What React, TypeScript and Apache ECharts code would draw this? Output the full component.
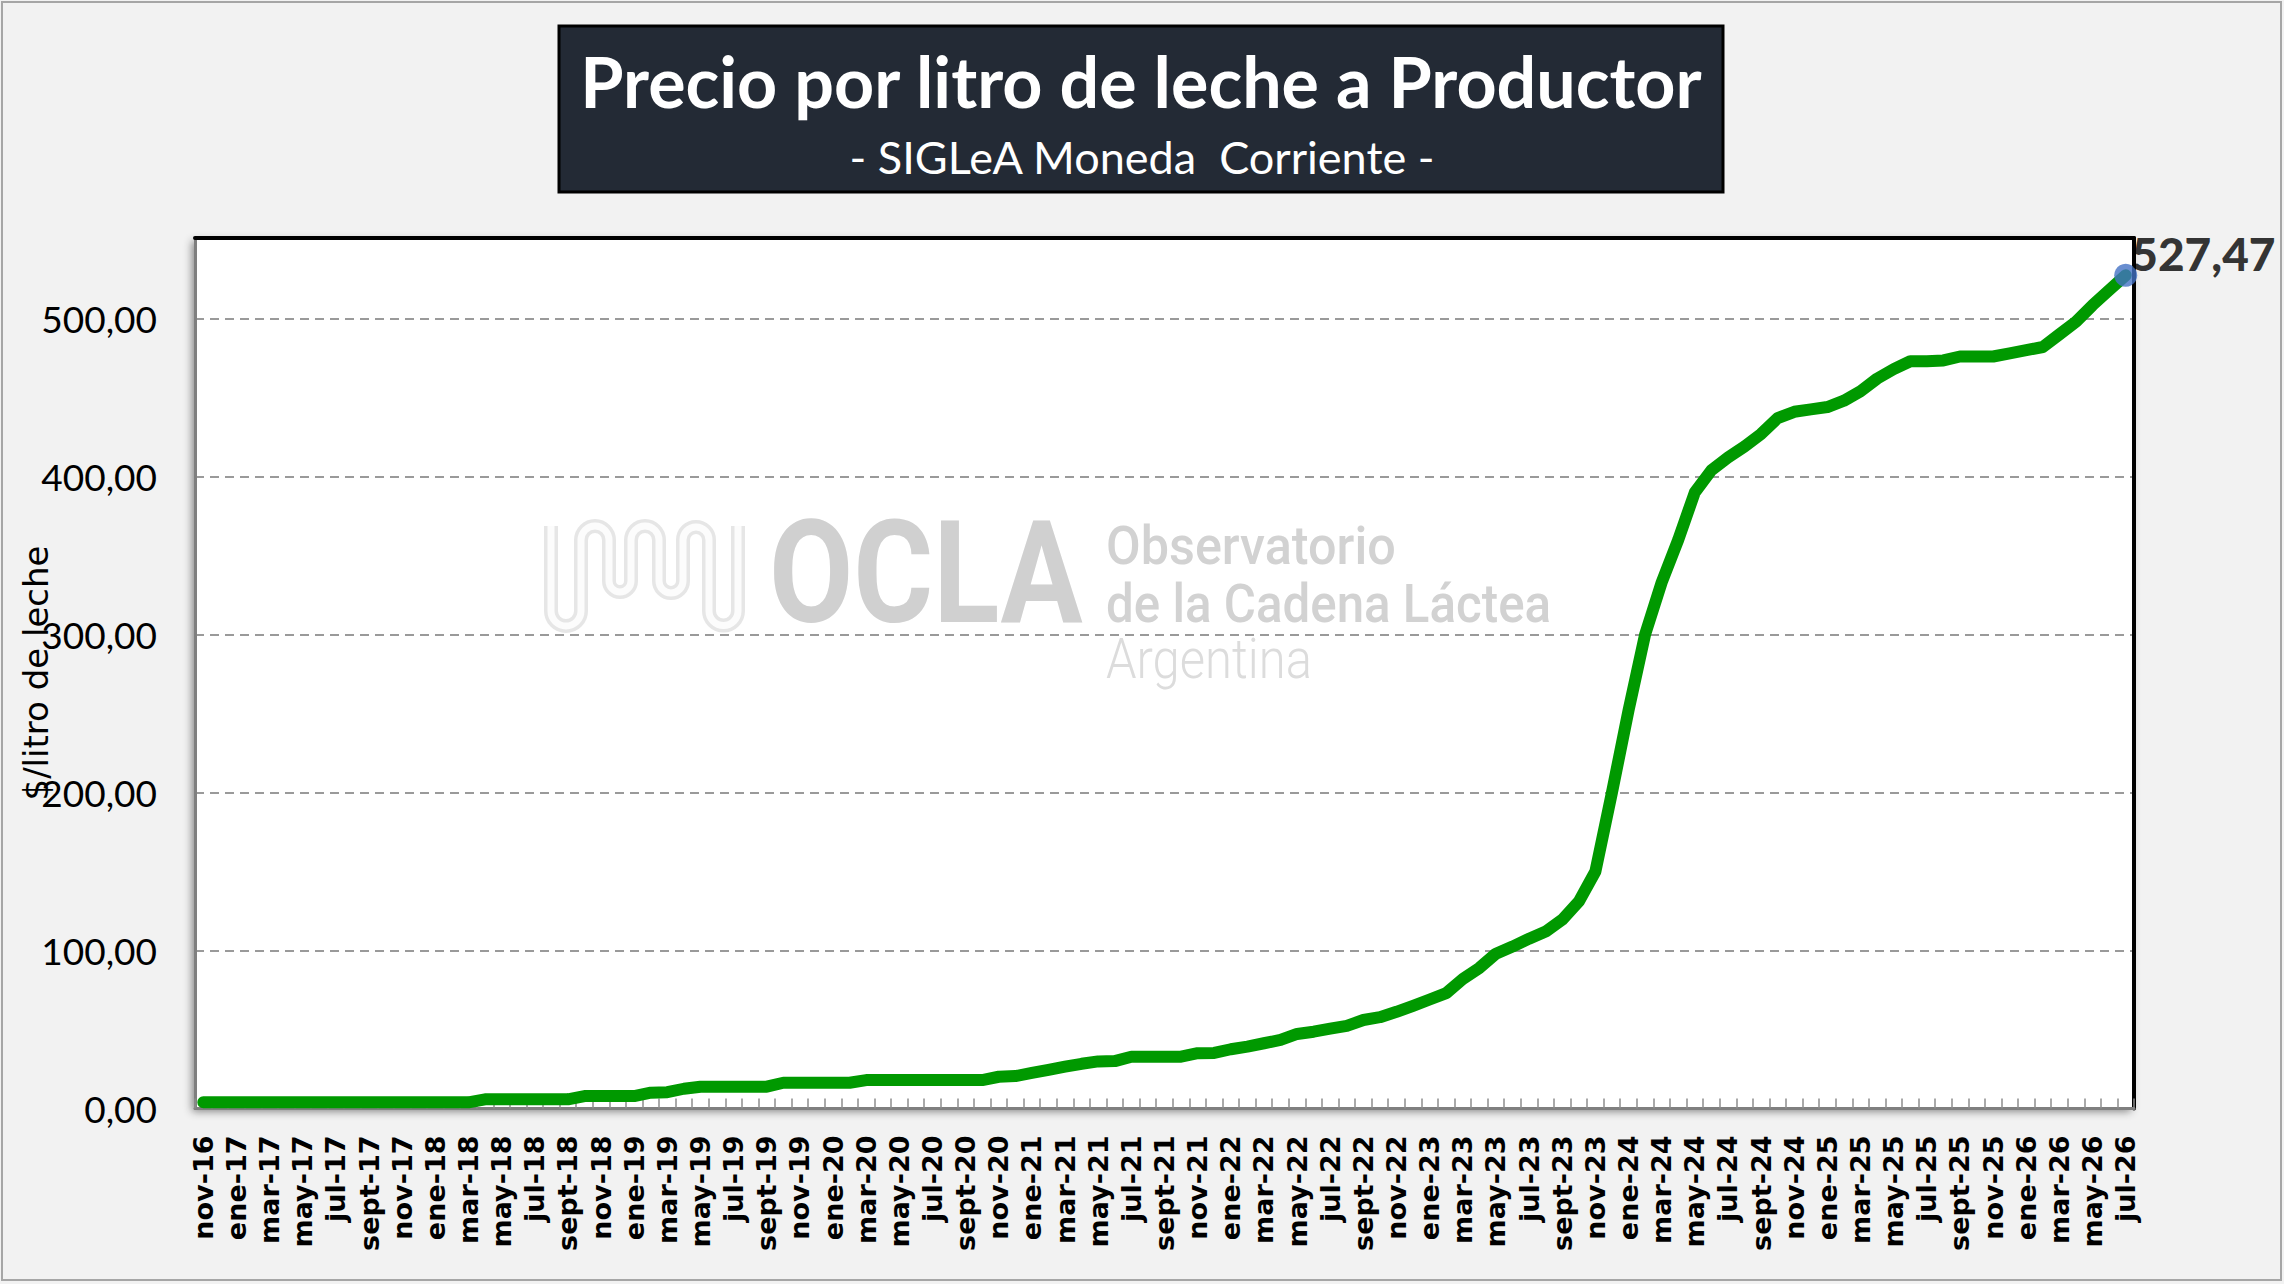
import React, { useEffect, useRef } from "react";
import * as echarts from "echarts";

// ---- Data ----
const MONTHS = ["ene", "feb", "mar", "abr", "may", "jun", "jul", "ago", "sept", "oct", "nov", "dic"];
const START_MONTH = 10; // nov
const START_YEAR = 16;
const N_MONTHS = 117; // nov-16 .. jul-26

const CATEGORIES: string[] = [];
for (let k = 0; k < N_MONTHS; k++) {
  const m = (START_MONTH + k) % 12;
  const y = START_YEAR + Math.floor((START_MONTH + k) / 12);
  CATEGORIES.push(`${MONTHS[m]}-${y}`);
}

// $/litro, monthly
const PRICES: number[] = [
  3.9, 3.9, 3.9, 3.9, 3.9, 3.9, 3.9, 3.9, 3.9, 3.9, 3.9, 3.9, 3.9, 3.9, 3.9, 3.9, 3.9,
  5.8, 5.8, 5.8, 5.8, 5.8, 5.8,
  7.9, 7.9, 7.9, 7.9,
  10.0, 10.3, 12.5,
  13.8, 13.8, 13.8, 13.8, 13.8,
  16.3, 16.3, 16.3, 16.3, 16.3,
  18.0, 18.0, 18.0, 18.0, 18.0, 18.0, 18.0, 18.0,
  20.1, 20.5, 22.5, 24.5, 26.5, 28.3, 29.8, 30.0,
  32.8, 32.8, 32.8, 32.8,
  35.0, 35.2, 37.5, 39.2, 41.3, 43.4, 47.2, 48.6, 50.5, 52.3,
  56.0, 57.8, 61.2, 65.0, 69.0, 73.0, 82.0, 89.0, 98.0, 102.5,
  107.5, 112.0, 119.5, 131.0, 150.0, 200.0, 252.0, 300.0, 333.0, 360.0,
  390.0, 404.0, 412.0, 419.0, 427.0, 437.0, 441.0, 442.5, 444.0, 448.0,
  454.0, 462.0, 468.0, 473.0, 473.0, 473.5, 476.0, 476.0, 476.0, 478.0,
  480.0, 482.0, 490.0, 498.0, 508.5, 518.0, 527.47,
];

const Y_MIN = 0;
const Y_MAX = 551;
const Y_STEP = 100;

const TITLE = "Precio por litro de leche a Productor";
const SUBTITLE = "- SIGLeA Moneda  Corriente -";
const Y_NAME = "$/litro de leche";

const LAST_INDEX = PRICES.length - 1;

const fmt = (v: number) => v.toFixed(2).replace(".", ",");

const LOGO_D =
  "M10 8 L10 93 A15 15 0 0 0 40 93 L40 22 A14 14 0 0 1 68 22 L68 63 A11 11 0 0 0 90 63 L90 22 A14 14 0 0 1 118 22 L118 63 A12 12 0 0 0 142 63 L142 22 A13 13 0 0 1 168 22 L168 93 A14.5 14.5 0 0 0 197 93 L197 8";

let registered = false;
function ensureShape() {
  if (registered) return;
  echarts.graphic.registerShape("oclalogo", echarts.graphic.extendPath(LOGO_D, {}) as any);
  registered = true;
}

export default function App() {
  const ref = useRef<HTMLDivElement>(null);

  useEffect(() => {
    document.body.style.margin = "0";
    ensureShape();
    const chart = echarts.init(ref.current!, undefined, { renderer: "svg" });

    const option: any = {
      animation: false,
      backgroundColor: "#f2f2f2",
      grid: {
        left: 195,
        top: 238,
        right: 150,
        bottom: 175.5,
        show: true,
        backgroundColor: "#ffffff",
        borderWidth: 0,
        shadowColor: "rgba(0,0,0,0.45)",
        shadowBlur: 8,
        shadowOffsetX: -3,
        shadowOffsetY: 3,
      },
      xAxis: [
        {
          type: "category",
          data: CATEGORIES,
          boundaryGap: true,
          axisLine: { onZero: false, lineStyle: { color: "#7f7f7f", width: 3 } },
          axisTick: {
            show: true,
            inside: true,
            interval: 0,
            length: 10,
            lineStyle: { color: "#8c8c8c", width: 1.5 },
          },
          axisLabel: {
            interval: 1,
            rotate: 90,
            margin: 27,
            fontFamily: "DejaVu Sans",
            fontWeight: "bold",
            fontSize: 27,
            color: "#000",
          },
          splitLine: { show: false },
        },
        {
          type: "category",
          position: "top",
          data: CATEGORIES,
          axisLine: { onZero: false, lineStyle: { color: "#000", width: 4 } },
          axisTick: { show: false },
          axisLabel: { show: false },
          splitLine: { show: false },
        },
      ],
      yAxis: [
        {
          type: "value",
          min: Y_MIN,
          max: Y_MAX,
          interval: Y_STEP,
          axisLine: { show: true, onZero: false, lineStyle: { color: "#7f7f7f", width: 3 } },
          axisTick: { show: false },
          axisLabel: {
            margin: 38,
            fontFamily: "Lato",
            fontSize: 37,
            color: "#000",
            formatter: (v: number) => (v % Y_STEP === 0 ? fmt(v) : ""),
          },
          splitLine: { lineStyle: { type: [9, 6], color: "#9a9a9a", width: 2 } },
        },
        {
          type: "value",
          position: "right",
          min: Y_MIN,
          max: Y_MAX,
          axisLine: { show: true, onZero: false, lineStyle: { color: "#000", width: 4 } },
          axisTick: { show: false },
          axisLabel: { show: false },
          splitLine: { show: false },
        },
      ],
      series: [
        {
          type: "line",
          data: PRICES,
          symbol: "none",
          showSymbol: false,
          lineStyle: { color: "#009900", width: 12, cap: "round", join: "round" },
          z: 3,
        },
        {
          type: "scatter",
          data: [[CATEGORIES[LAST_INDEX], PRICES[LAST_INDEX]]],
          symbolSize: 23,
          itemStyle: { color: "#4472C4" },
          label: {
            show: true,
            position: "right",
            offset: [-11, -22],
            formatter: (p: any) => fmt(p.value[1]),
            fontFamily: "Lato",
            fontWeight: 900,
            fontSize: 46,
            color: "#000",
          },
          z: 4,
        },
      ],
      graphic: [
        // title box
        {
          type: "rect",
          shape: { x: 559, y: 26, width: 1164, height: 166 },
          style: { fill: "#232a35", stroke: "#000", lineWidth: 3 },
          z: 10,
        },
        {
          type: "text",
          x: 1141,
          y: 81,
          style: {
            text: TITLE,
            fill: "#ffffff",
            font: "bold 70px Lato",
            align: "center",
            verticalAlign: "middle",
          },
          z: 11,
        },
        {
          type: "text",
          x: 1142,
          y: 157,
          style: {
            text: SUBTITLE,
            fill: "#ffffff",
            font: "45px Lato",
            align: "center",
            verticalAlign: "middle",
          },
          z: 11,
        },
        // y axis name
        {
          type: "text",
          x: 36,
          y: 673,
          rotation: Math.PI / 2,
          style: {
            text: Y_NAME,
            fill: "#000",
            font: "34px 'DejaVu Sans'",
            align: "center",
            verticalAlign: "middle",
          },
          z: 11,
        },
        // watermark
        {
          type: "oclalogo",
          x: 541,
          y: 518,
          style: { fill: "none", stroke: "#e6e6e6", lineWidth: 14 },
          z: 1,
        },
        {
          type: "oclalogo",
          x: 541,
          y: 518,
          style: { fill: "none", stroke: "#fcfcfc", lineWidth: 7 },
          z: 1,
        },
        {
          type: "text",
          x: 769,
          y: 573,
          scaleX: 0.855,
          style: {
            text: "OCLA",
            fill: "#d0d0d0",
            font: "bold 143px Roboto",
            align: "left",
            verticalAlign: "middle",
          },
          z: 1,
        },
        {
          type: "text",
          x: 1106,
          y: 546,
          scaleX: 0.95,
          style: {
            text: "Observatorio",
            fill: "#d2d2d2",
            font: "500 53px Roboto",
            align: "left",
            verticalAlign: "middle",
          },
          z: 1,
        },
        {
          type: "text",
          x: 1106,
          y: 604,
          scaleX: 0.93,
          style: {
            text: "de la Cadena Láctea",
            fill: "#d2d2d2",
            font: "500 53px Roboto",
            align: "left",
            verticalAlign: "middle",
          },
          z: 1,
        },
        {
          type: "text",
          x: 1106,
          y: 660,
          scaleX: 0.89,
          style: {
            text: "Argentina",
            fill: "#dcdcdc",
            font: "300 55px Roboto",
            align: "left",
            verticalAlign: "middle",
          },
          z: 1,
        },
        // outer frame
        {
          type: "rect",
          shape: { x: 2, y: 2, width: 2279, height: 1278 },
          style: { fill: "none", stroke: "#a6a6a6", lineWidth: 2 },
          z: 100,
        },
      ],
    };

    chart.setOption(option);
    return () => chart.dispose();
  }, []);

  return <div ref={ref} style={{ width: 2284, height: 1284 }} />;
}
